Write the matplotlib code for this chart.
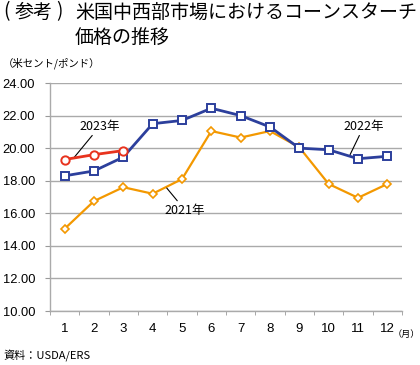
import matplotlib
matplotlib.use("Agg")
import matplotlib.pyplot as plt

plt.rcParams['font.family'] = ['Noto Sans CJK JP', 'DejaVu Sans']

months = list(range(1, 13))
month_labels = [str(m) for m in months]
y2021 = [15.05, 16.75, 17.6, 17.2, 18.1, 21.05, 20.65, 21.05, 20.05, 17.8, 16.95, 17.8]
y2022 = [18.3, 18.6, 19.45, 21.5, 21.7, 22.45, 22.0, 21.3, 20.0, 19.9, 19.35, 19.5]
y2023 = [19.3, 19.6, 19.85]
yticks = [10, 12, 14, 16, 18, 20, 22, 24]

fig = plt.figure(figsize=(4.2, 3.65), dpi=100)
ax = fig.add_axes([50/420, 1-311/365, 352/420, 228/365])

blue = '#2c3f9c'
orange = '#f39800'
red = '#e8331e'

ax.plot(months, y2021, color=orange, lw=1.6, marker='D', ms=4, mfc='white', mec=orange, mew=1.2, zorder=3)
ax.plot(months, y2022, color=blue, lw=2.0, marker='s', ms=6, mfc='white', mec=blue, mew=1.4, zorder=4)
ax.plot(months[:3], y2023, color=red, lw=2.0, marker='o', ms=6, mfc='white', mec=red, mew=1.4, zorder=5)

num_font = ['Liberation Sans', 'DejaVu Sans']
ax.set_xlim(0.5, 12.5)
ax.set_ylim(10, 24)
ax.set_yticks(yticks)
ax.set_yticklabels([f"{v:.2f}" for v in yticks], fontsize=9.3, family=num_font)
ax.set_xticks(months)
ax.set_xticklabels(month_labels, fontsize=9.5, family=num_font)
ax.tick_params(axis='x', length=0, pad=9)
ax.set_xticks([m + 0.5 for m in [0] + months], minor=True)
ax.tick_params(axis='x', which='minor', length=3, color='#999999', direction='out')
ax.tick_params(axis='y', length=3.6, color='#999999', pad=7)
ax.grid(axis='y', color='#aaaaaa', lw=1.0)
ax.set_axisbelow(True)
for s in ['top', 'right']:
    ax.spines[s].set_visible(False)
for s in ['left', 'bottom']:
    ax.spines[s].set_color('#aaaaaa')
    ax.spines[s].set_linewidth(1.0)

# annotations
arrow = dict(arrowstyle='-', color='black', lw=0.8, shrinkA=0, shrinkB=0)
ax.annotate('2023年', xy=(1.31, 19.4), xytext=(2.2, 20.95), fontsize=9,
            ha='center', va='bottom', arrowprops=arrow)
ax.annotate('2021年', xy=(4.48, 17.55), xytext=(5.1, 16.6), fontsize=9,
            ha='center', va='top', arrowprops=arrow)
ax.annotate('2022年', xy=(10.73, 19.6), xytext=(11.2, 20.95), fontsize=9,
            ha='center', va='bottom', arrowprops=arrow)

ts = 13.7
fig.text(3/420, 1-12/365, '(', fontsize=ts, va='center', ha='left')
fig.text(15/420, 1-12/365, '参考', fontsize=ts, va='center', ha='left')
fig.text(56/420, 1-12/365, ')', fontsize=ts, va='center', ha='left')
fig.text(75/420, 1-12/365, '米国中西部市場におけるコーンスターチ', fontsize=ts, va='center', ha='left')
fig.text(75/420, 1-37/365, '価格の推移', fontsize=ts, va='center', ha='left')
fig.text(3/420, 1-63/365, '（米セント/ポンド）', fontsize=7.5, va='center', ha='left')
fig.text(393/420, 1-334/365, '（月）', fontsize=6.6, va='center', ha='left')
fig.text(3/420, 1-356/365, '資料：USDA/ERS', fontsize=8, va='center', ha='left')

fig.savefig('out.png', dpi=100)
